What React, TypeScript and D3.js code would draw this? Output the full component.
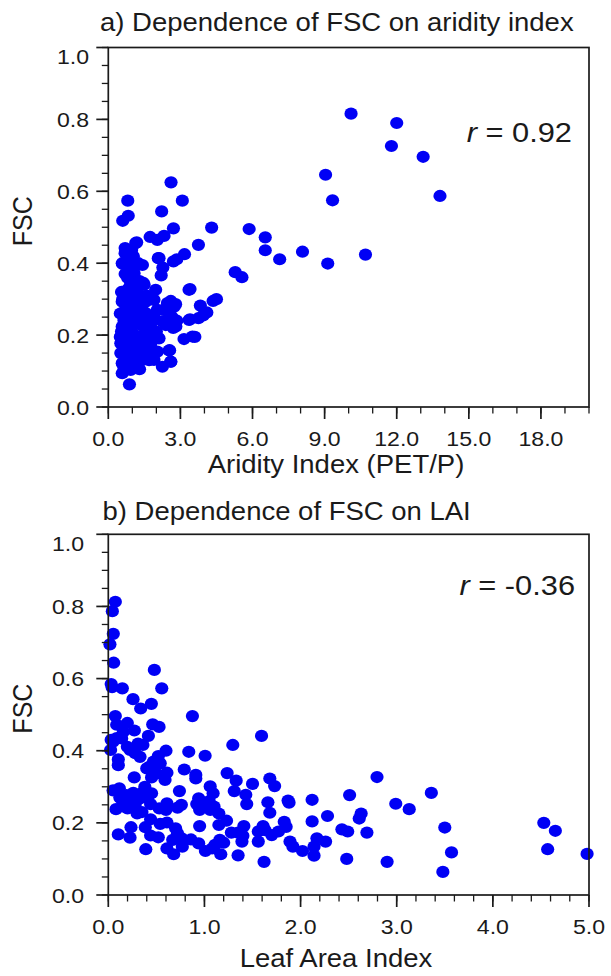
import React from 'react';
import * as d3 from 'd3';

// panel a) aridity index (PET/P) vs FSC
const aridX = [
  10.1, 12.0, 11.78, 13.1, 9.04, 13.8, 9.33,
  2.61, 0.81, 3.08, 2.22, 0.83, 0.6,
  2.71, 4.3, 5.86, 6.53, 6.53, 7.13, 8.08, 9.13, 10.7, 5.28, 5.56,
  3.75, 1.74, 2.04, 2.32, 1.18,
  0.7, 0.97, 0.7, 1.04, 0.6, 2.08, 3.17, 2.71, 2.85, 2.27, 2.2, 3.4,
  4.5, 4.36, 3.83, 4.1, 3.95, 3.4, 3.75, 3.15, 3.6,
  2.6, 2.8, 2.55, 2.85, 2.7, 2.65, 2.55, 2.6, 2.25, 0.88,
  0.72, 1.14, 0.58, 0.96, 1.42, 2.11,
  1.07, 0.93, 1.21, 1.49, 0.65, 1.97, 3.36,
  0.58, 0.93, 1.56, 1.9, 2.46, 2.74,
  0.65, 1.07, 1.56, 2.04,
  0.65, 1.14, 1.77, 2.25, 2.81, 3.36,
  0.58, 0.93, 1.35, 1.77, 2.39, 2.81, 3.5,
  0.52, 0.93, 1.35, 1.77, 2.11,
  0.52, 0.86, 1.21, 1.63, 2.04, 2.53,
  0.58, 1.0, 1.42, 1.9, 2.6,
  0.58, 0.93, 1.21,
  0.55, 0.6, 1.1, 1.05, 1.46, 1.3, 0.8, 0.75, 1.3, 0.8, 1.2, 1.4, 0.5, 0.85, 1.3,
  0.55, 1.1, 1.55, 0.75, 1.25, 0.7, 1.05, 1.45, 0.75, 1.3, 0.65, 1.7, 2.0, 1.9, 0.9,
  1.6, 0.95, 1.25, 0.85, 1.15, 0.7, 1.7, 0.5, 1.5, 2.3,
];
const aridFsc = [
  0.816, 0.79, 0.726, 0.696, 0.646, 0.587, 0.575,
  0.625, 0.574, 0.574, 0.544, 0.532, 0.518,
  0.497, 0.499, 0.495, 0.472, 0.436, 0.411, 0.432, 0.399, 0.424, 0.375, 0.361,
  0.451, 0.473, 0.465, 0.476, 0.458,
  0.442, 0.437, 0.428, 0.419, 0.398, 0.414, 0.425, 0.405, 0.411, 0.388, 0.366, 0.328,
  0.3, 0.295, 0.282, 0.263, 0.255, 0.244, 0.247, 0.189, 0.195,
  0.295, 0.286, 0.26, 0.24, 0.22, 0.25, 0.158, 0.126, 0.112, 0.063,
  0.437, 0.456, 0.4, 0.41, 0.395, 0.414,
  0.372, 0.345, 0.326, 0.34, 0.321, 0.326, 0.326,
  0.293, 0.298, 0.293, 0.298, 0.289, 0.279,
  0.265, 0.27, 0.261, 0.27,
  0.242, 0.238, 0.242, 0.238, 0.238, 0.242,
  0.224, 0.214, 0.228, 0.233, 0.228, 0.224, 0.196,
  0.177, 0.182, 0.187, 0.177, 0.191,
  0.15, 0.154, 0.159, 0.15, 0.154, 0.157,
  0.122, 0.126, 0.131, 0.131, 0.126,
  0.094, 0.103, 0.112,
  0.32, 0.3, 0.357, 0.375, 0.345, 0.35, 0.36, 0.31, 0.31, 0.28, 0.29, 0.27, 0.26, 0.25, 0.25,
  0.21, 0.2, 0.21, 0.19, 0.17, 0.165, 0.14, 0.16, 0.135, 0.105, 0.11, 0.2, 0.21, 0.25, 0.23,
  0.31, 0.39, 0.4, 0.33, 0.31, 0.37, 0.13, 0.195, 0.23, 0.27,
];

// panel b) leaf area index vs FSC
const laiX = [
  0.073, 0.042, 0.052, 0.017, 0.056, 0.479, 0.03, 0.04, 0.146, 0.556, 0.257, 0.337, 0.448, 0.875,
  0.073, 0.087, 0.198, 0.271, 0.462, 0.528, 0.156, 0.139, 0.417, 1.594, 0.03, 0.05, 0.087, 0.31,
  0.36, 1.295, 0.198, 0.226, 0.024, 0.28, 0.33, 0.6, 0.837, 1.007, 0.104, 0.104, 0.52, 0.47,
  0.54, 0.43, 0.4, 0.79, 0.61, 0.5, 0.59, 0.27, 0.45, 0.91, 0.91, 1.236, 1.33, 1.5, 1.68, 1.73,
  2.795, 3.36, 2.51, 2.99, 3.13, 2.12, 1.87, 1.88, 1.66, 1.68, 2.28, 2.63, 2.61, 2.12,
  1.31, 1.43, 1.44, 1.06, 1.09, 0.94, 0.92, 1.01, 0.95, 1.06, 1.15, 0.74, 0.72, 0.76,
  0.61, 0.6, 0.53, 0.44, 0.38, 0.45,
  0.05, 0.115, 0.19, 0.26, 0.33, 0.23, 0.15, 0.08, 0.2, 0.3, 0.35, 0.12, 0.28, 0.36, 0.41, 0.17,
  0.44, 0.54, 0.61, 0.95, 1.15, 1.23, 0.236, 0.226, 0.385, 0.104, 0.44, 0.52, 0.7, 0.72, 0.67,
  0.764, 0.86, 0.39, 0.61, 0.68, 0.77, 0.94, 1.01, 1.08, 1.11, 1.17, 1.2, 1.16, 1.28, 1.35,
  1.41, 1.4, 1.39, 1.35, 1.56, 1.56, 1.61, 1.63, 1.7, 1.77, 1.83, 1.85, 1.62, 1.89, 1.92,
  2.02, 2.14, 2.14, 2.17, 2.26, 2.43, 2.49, 2.69, 2.48, 2.9, 3.5, 3.57, 3.48,
  4.53, 4.65, 4.57, 4.98, 1.05, 1.1,
];
const laiFsc = [
  0.813, 0.787, 0.724, 0.695, 0.644, 0.624, 0.585, 0.576, 0.573, 0.573, 0.543, 0.517, 0.53, 0.496,
  0.496, 0.472, 0.477, 0.456, 0.473, 0.466, 0.452, 0.434, 0.441, 0.441, 0.43, 0.425, 0.435, 0.42,
  0.416, 0.416, 0.411, 0.402, 0.402, 0.393, 0.383, 0.4, 0.397, 0.386, 0.376, 0.36, 0.385, 0.37,
  0.365, 0.356, 0.351, 0.348, 0.339, 0.337, 0.319, 0.326, 0.326, 0.333, 0.323, 0.338, 0.317, 0.308, 0.323, 0.302,
  0.327, 0.283, 0.277, 0.253, 0.238, 0.264, 0.262, 0.256, 0.257, 0.228, 0.219, 0.226, 0.212, 0.204,
  0.288, 0.278, 0.252, 0.301, 0.282, 0.268, 0.252, 0.256, 0.236, 0.236, 0.226, 0.288, 0.242, 0.25,
  0.254, 0.236, 0.24, 0.252, 0.3, 0.282,
  0.29, 0.296, 0.277, 0.283, 0.268, 0.259, 0.259, 0.238, 0.24, 0.226, 0.23, 0.27, 0.25, 0.285, 0.27, 0.245,
  0.21, 0.197, 0.201, 0.191, 0.194, 0.206, 0.188, 0.159, 0.188, 0.168, 0.165, 0.16, 0.185, 0.171, 0.153,
  0.157, 0.154, 0.127, 0.129, 0.113, 0.134, 0.143, 0.122, 0.129, 0.139, 0.113, 0.145, 0.153, 0.173, 0.173,
  0.191, 0.164, 0.148, 0.11, 0.176, 0.148, 0.191, 0.18, 0.166, 0.176, 0.203, 0.189, 0.092, 0.148, 0.134,
  0.122, 0.134, 0.109, 0.157, 0.148, 0.182, 0.176, 0.173, 0.1, 0.092, 0.187, 0.118, 0.064,
  0.2, 0.178, 0.127, 0.114, 0.26, 0.245,
];

const fscTicks = [0, 0.2, 0.4, 0.6, 0.8, 1.0];
const aridTicks = [0, 3, 6, 9, 12, 15, 18];
const laiTicks = [0, 1, 2, 3, 4, 5];

const FONT = 'Liberation Sans, Arial, sans-serif';
const INK = '#1a1a1a';
const DOT = '#0000f5';
const STRETCH = 1.1; // the source figure is a bit wider than tall

// text drawn a little wider than the font, like the source
const SText = ({ x, y, size, anchor = 'start', children }: any) => (
  <text transform={`translate(${x},${y}) scale(${STRETCH},1)`} textAnchor={anchor}
    fontSize={size} fontFamily={FONT} fill={INK}>{children}</text>
);

type PanelProps = {
  top: number;
  bottom: number;
  title: string;
  titleX: number;
  titleY: number;
  xs: number[];
  ys: number[];
  xMax: number;
  xTicks: number[];
  xMinorStep: number;
  xLabel: string;
  yLabelEnd: number;
  tickY: number;
  labelY: number;
  rText: string;
  rX: number;
  rY: number;
};

const Panel = (p: PanelProps) => {
  const left = 108.3;
  const right = 589;
  const x = d3.scaleLinear().domain([0, p.xMax]).range([left, right]);
  const y = d3.scaleLinear().domain([0, 1]).range([p.bottom, p.top]);
  const xMinor = d3.range(0, p.xMax + 1e-9, p.xMinorStep);
  const yMinor = d3.range(0, 1.0001, 0.05);
  const fmt = d3.format('.1f');

  return (
    <g>
      <SText x={p.titleX} y={p.titleY} size={25}>{p.title}</SText>
      {p.xs.map((v, i) => (
        <ellipse key={i} cx={x(v)} cy={y(p.ys[i])} rx={6.6} ry={6.1} fill={DOT} />
      ))}
      <rect x={left} y={p.top} width={right - left} height={p.bottom - p.top}
        fill="none" stroke={INK} strokeWidth={1.7} />
      {xMinor.map((v, i) => (
        <line key={'xm' + i} x1={x(v)} x2={x(v)} y1={p.bottom} y2={p.bottom + 6.5} stroke={INK} strokeWidth={1.3} />
      ))}
      {p.xTicks.map((v) => (
        <g key={'xt' + v}>
          <line x1={x(v)} x2={x(v)} y1={p.bottom} y2={p.bottom + 12} stroke={INK} strokeWidth={1.7} />
          <SText x={x(v)} y={p.tickY} size={21} anchor="middle">{fmt(v)}</SText>
        </g>
      ))}
      {yMinor.map((v, i) => (
        <line key={'ym' + i} x1={left - 6.5} x2={left} y1={y(v)} y2={y(v)} stroke={INK} strokeWidth={1.3} />
      ))}
      {fscTicks.map((v) => (
        <g key={'yt' + v}>
          <line x1={left - 12} x2={left} y1={y(v)} y2={y(v)} stroke={INK} strokeWidth={1.7} />
          <SText x={p.yLabelEnd} y={y(v) + (v === 1 ? 9 : 0) + 7.5} size={21} anchor="end">{fmt(v)}</SText>
        </g>
      ))}
      <SText x={336} y={p.labelY} size={25} anchor="middle">{p.xLabel}</SText>
      <text transform={`translate(31.5,${(p.top + p.bottom) / 2 - 6}) rotate(-90) scale(1,${STRETCH})`} textAnchor="middle"
        fontSize={25} fontFamily={FONT} fill={INK}>FSC</text>
      <SText x={p.rX} y={p.rY} size={28} anchor="end">
        <tspan fontStyle="italic">r</tspan> = {p.rText}
      </SText>
    </g>
  );
};

export default function App() {
  return (
    <svg width={611} height={976} style={{ position: 'absolute', left: 0, top: 0, background: '#fff' }}>
      <Panel top={47.5} bottom={407} title="a) Dependence of FSC on aridity index" titleX={100} titleY={31}
        xs={aridX} ys={aridFsc} xMax={20} xTicks={aridTicks} xMinorStep={1}
        xLabel="Aridity Index (PET/P)" yLabelEnd={89} tickY={446} labelY={473} rText="0.92" rX={572} rY={142} />
      <Panel top={534.3} bottom={895} title="b) Dependence of FSC on LAI" titleX={102.5} titleY={520}
        xs={laiX} ys={laiFsc} xMax={5} xTicks={laiTicks} xMinorStep={0.2}
        xLabel="Leaf Area Index" yLabelEnd={84} tickY={934} labelY={967} rText="-0.36" rX={575} rY={595} />
    </svg>
  );
}
